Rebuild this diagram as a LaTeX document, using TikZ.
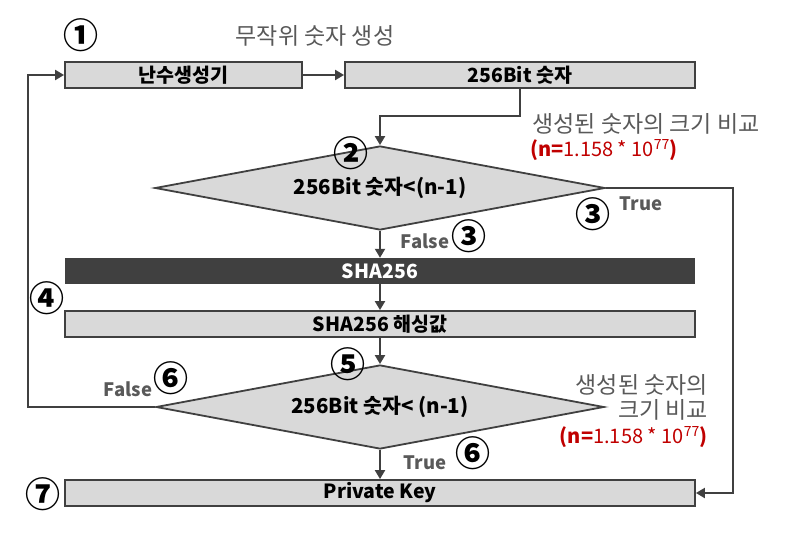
\documentclass[tikz,border=0pt]{standalone}
\usepackage{fontspec}
\usepackage{xcolor}
\usepackage{tikz}
\usetikzlibrary{arrows.meta,positioning,shapes.geometric}
\setmainfont{Noto Sans CJK KR}
\definecolor{boxGray}{RGB}{217,217,217}
\definecolor{lineGray}{RGB}{64,64,64}
\definecolor{barDark}{RGB}{64,64,64}
\definecolor{noteGray}{RGB}{89,89,89}
\definecolor{noteRed}{RGB}{192,0,0}

\begin{document}
\begin{tikzpicture}[x=1pt, y=-1pt,
    flowbox/.style={draw=lineGray, fill=boxGray, line width=1.8pt, minimum height=26pt,
        inner sep=0pt, font=\fontsize{19.5}{22}\selectfont\bfseries},
    hashbar/.style={fill=barDark, text=white, minimum height=26pt, minimum width=630pt,
        inner sep=0pt, font=\fontsize{19.5}{22}\selectfont\bfseries},
    decision/.style={diamond, aspect=5.36, draw=lineGray, fill=boxGray, line width=1.8pt,
        inner sep=0pt, minimum width=450pt, minimum height=84pt,
        font=\fontsize{20.5}{22}\selectfont\bfseries},
    flow/.style={draw=lineGray, line width=2pt, -{Triangle[length=9pt,width=10pt]}},
    steplabel/.style={inner sep=0pt, font=\fontsize{35}{35}\selectfont\bfseries},
    note/.style={text=noteGray, inner sep=0pt, font=\fontsize{23}{25}\selectfont},
    nval/.style={text=noteRed, inner sep=0pt, font=\fontsize{20}{22}\selectfont},
    branch/.style={text=noteGray, inner sep=0pt, font=\fontsize{18.5}{20}\selectfont\bfseries}]
    \useasboundingbox (0,0) rectangle (802,537);

    % boxes
    \node[flowbox, minimum width=237pt] (rng) at (183.5,75) {난수생성기};
    \node[flowbox, minimum width=350pt] (num) at (520,75) {256Bit 숫자};
    \node[decision] (cmpa) at (380,188) {256Bit 숫자<(n-1)};
    \node[hashbar] (sha) at (380,271) {SHA256};
    \node[flowbox, minimum width=630pt] (hash) at (380,324) {SHA256 해싱값};
    \node[decision, minimum width=448pt] (cmpb) at (380,407) {256Bit 숫자< (n-1)};
    \node[flowbox, minimum width=630pt] (key) at (380,493) {Private Key};

    % bends of the loop lines
    \coordinate (truebend) at (733,188);
    \coordinate (falsebend) at (28,407);

    % connectors
    \draw[flow] (rng.east) -- (num.west);
    \draw[flow] (num.south) -- ++(0,27) -| (cmpa.north);
    \draw[flow] (cmpa.south) -- (sha.north);
    \draw[flow] (sha.south) -- (hash.north);
    \draw[flow] (hash.south) -- (cmpb.north);
    \draw[flow] (cmpb.south) -- (key.north);
    \draw[flow] (cmpa.east) -- (truebend) |- (key.east);
    \draw[flow] (cmpb.west) -- (falsebend) |- (rng.west);

    % notes
    \node[note] (gen) at (315,36) {무작위 숫자 생성};
    \node[note] (cmpnotea) at (646,124) {생성된 숫자의 크기 비교};
    \node[nval] (nvala) at (604,150)
        {\textbf{(n=}1.158 * 10\textsuperscript{77}\textbf{)}};
    \node[note, align=right, anchor=east] (cmpnoteb) at (708,397) {생성된 숫자의\\크기 비교};
    \node[nval, anchor=east] (nvalb) at (708,437)
        {\textbf{(n=}1.158 * 10\textsuperscript{77}\textbf{)}};
    \node[branch] (falsea) at (425,241) {False};
    \node[branch] (truea) at (641,204) {True};
    \node[branch] (falseb) at (128,389) {False};
    \node[branch] (trueb) at (425,463) {True};

    % step numbers
    \node[steplabel] (s1) at (81,35) {①};
    \node[steplabel] (s2) at (351,153) {②};
    \node[steplabel] (s3a) at (469,236) {③};
    \node[steplabel] (s3b) at (593,214) {③};
    \node[steplabel] (s4) at (47,298) {④};
    \node[steplabel] (s5) at (348,364) {⑤};
    \node[steplabel] (s6a) at (171,378) {⑥};
    \node[steplabel] (s6b) at (473,453) {⑥};
    \node[steplabel] (s7) at (43,494) {⑦};
\end{tikzpicture}
\end{document}
